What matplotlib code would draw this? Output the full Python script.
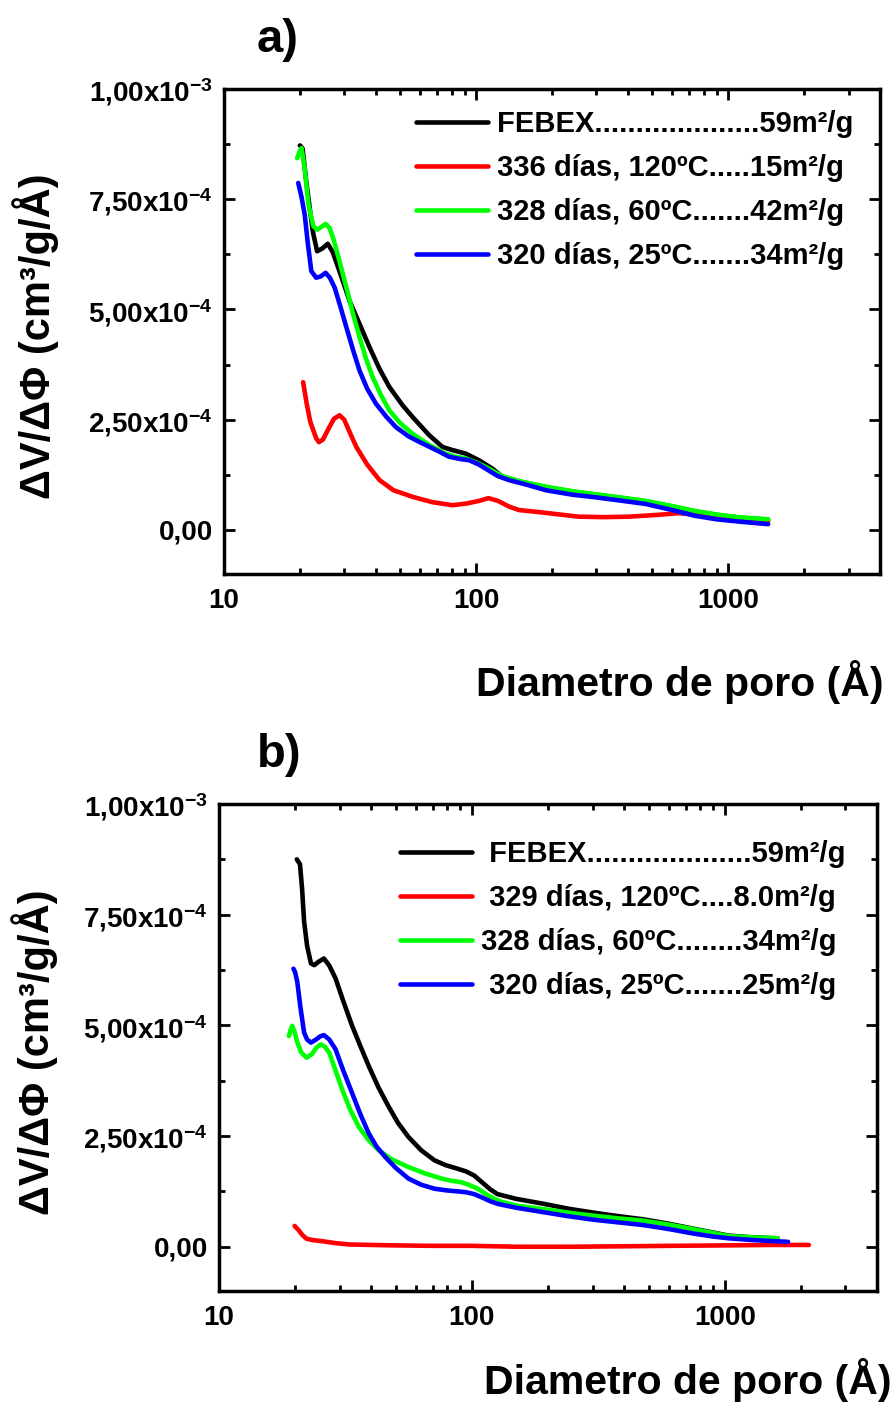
import matplotlib
matplotlib.use("Agg")
import matplotlib.pyplot as plt
from matplotlib.ticker import FixedLocator, FixedFormatter, LogLocator, NullFormatter, MultipleLocator

plt.rcParams['font.family'] = ['Liberation Sans', 'DejaVu Sans']
plt.rcParams['font.weight'] = 'bold'
plt.rcParams['axes.labelweight'] = 'bold'
plt.rcParams['mathtext.fontset'] = 'custom'
plt.rcParams['mathtext.rm'] = 'Liberation Sans:bold'
plt.rcParams['mathtext.bf'] = 'Liberation Sans:bold'
plt.rcParams['mathtext.it'] = 'Liberation Sans:bold'

# ---- panel a: pore size distributions (D in Angstrom, dV/dD in 1e-4 cm3/g/A)
a_febex_d = [20.0, 20.5, 21.2, 22.5, 23.4, 24.5, 25.8, 27.0, 28.7, 31.5, 34.5, 37.8, 41.4,
             45.3, 51.2, 56.0, 65.1, 73.6, 80.7, 91.0, 102.7, 116, 127, 150, 189, 240,
             297, 380, 469, 600, 738, 900, 1097, 1440]
a_febex_v = [8.72, 8.65, 7.90, 6.77, 6.32, 6.38, 6.49, 6.30, 5.87, 5.19, 4.67, 4.14, 3.65,
             3.24, 2.82, 2.56, 2.15, 1.88, 1.81, 1.73, 1.58, 1.39, 1.21, 1.09, 0.97, 0.87,
             0.80, 0.72, 0.65, 0.53, 0.42, 0.34, 0.28, 0.23]

a_120_d = [20.6, 21.3, 22.0, 22.6, 23.2, 23.8, 24.7, 26.0, 27.3, 28.7, 30.0, 31.6, 33.5,
           37.0, 41.4, 47.0, 56.0, 67.0, 80.6, 92.0, 103, 112, 122, 135, 148, 180, 255,
           320, 403, 520, 638, 800, 1097, 1440]
a_120_v = [3.35, 2.85, 2.45, 2.26, 2.08, 1.99, 2.05, 2.30, 2.52, 2.60, 2.50, 2.20, 1.88,
           1.48, 1.13, 0.90, 0.75, 0.63, 0.56, 0.60, 0.66, 0.72, 0.66, 0.53, 0.45, 0.40,
           0.30, 0.29, 0.30, 0.34, 0.38, 0.33, 0.25, 0.19]

a_60_d = [19.5, 20.0, 20.3, 20.9, 21.6, 22.6, 23.4, 24.3, 25.3, 26.2, 27.1, 28.7, 30.6,
          32.5, 34.5, 36.5, 38.9, 42.0, 45.3, 50.0, 56.0, 65.0, 75.8, 83.0, 91.0, 100,
          109, 118, 127, 150, 189, 240, 297, 380, 469, 600, 738, 900, 1097, 1440]
a_60_v = [8.43, 8.60, 8.66, 8.20, 7.40, 6.89, 6.81, 6.87, 6.94, 6.85, 6.62, 6.10, 5.49,
          4.90, 4.37, 3.90, 3.46, 3.05, 2.71, 2.42, 2.18, 1.93, 1.73, 1.66, 1.62, 1.53,
          1.43, 1.32, 1.22, 1.10, 0.98, 0.88, 0.81, 0.73, 0.66, 0.54, 0.43, 0.35, 0.29, 0.24]

a_25_d = [19.7, 20.3, 20.9, 21.5, 22.2, 23.2, 24.2, 25.3, 26.3, 27.5, 29.0, 30.6, 32.5,
          34.5, 37.0, 40.1, 44.0, 48.1, 54.0, 61.3, 70.0, 78.1, 86.0, 93.8, 102, 112, 122,
          135, 160, 189, 240, 297, 380, 469, 600, 738, 900, 1097, 1440]
a_25_v = [7.87, 7.55, 7.15, 6.50, 5.87, 5.72, 5.75, 5.83, 5.72, 5.49, 5.05, 4.59, 4.08,
          3.61, 3.20, 2.86, 2.57, 2.33, 2.12, 1.96, 1.80, 1.66, 1.61, 1.58, 1.49, 1.35,
          1.22, 1.13, 1.02, 0.90, 0.80, 0.74, 0.66, 0.59, 0.45, 0.32, 0.24, 0.19, 0.13]

# ---- panel b
b_febex_d = [20.3, 20.9, 21.3, 21.7, 22.3, 23.1, 23.8, 24.8, 26.0, 27.3, 28.9, 31.0, 33.6,
             36.3, 39.1, 42.7, 46.8, 51.0, 56.1, 63.0, 71.2, 79.0, 88.0, 95.0, 102, 110,
             118, 126, 150, 192, 240, 303, 380, 475, 600, 748, 900, 1038, 1300, 1617]
b_febex_v = [8.75, 8.64, 8.10, 7.35, 6.80, 6.40, 6.36, 6.44, 6.51, 6.35, 6.06, 5.55, 4.99,
             4.52, 4.08, 3.60, 3.17, 2.80, 2.48, 2.18, 1.95, 1.84, 1.76, 1.70, 1.61, 1.45,
             1.30, 1.19, 1.08, 0.97, 0.86, 0.77, 0.69, 0.62, 0.52, 0.41, 0.32, 0.25, 0.21, 0.19]

b_120_d = [19.9, 20.6, 21.4, 22.2, 23.5, 26.0, 29.0, 33.0, 40.0, 50.0, 70.0, 100, 150, 250,
           400, 600, 1000, 1500, 2150]
b_120_v = [0.47, 0.38, 0.26, 0.18, 0.15, 0.12, 0.08, 0.05, 0.04, 0.03, 0.02, 0.02, 0.00,
           0.00, 0.01, 0.02, 0.03, 0.04, 0.04]

b_60_d = [18.9, 19.2, 19.5, 19.9, 20.4, 21.2, 22.2, 23.3, 24.3, 25.3, 26.2, 27.3, 28.9,
          30.7, 33.0, 35.7, 39.0, 42.8, 48.0, 56.1, 65.0, 75.8, 83.0, 90.5, 98.0, 105.5,
          115, 122, 130, 150, 192, 240, 303, 380, 475, 600, 748, 900, 1038, 1300, 1617]
b_60_v = [4.76, 4.90, 4.99, 4.85, 4.61, 4.38, 4.27, 4.35, 4.50, 4.57, 4.52, 4.38, 3.98,
          3.55, 3.10, 2.71, 2.41, 2.18, 1.98, 1.80, 1.66, 1.54, 1.49, 1.46, 1.39, 1.31,
          1.17, 1.09, 1.02, 0.93, 0.85, 0.77, 0.70, 0.64, 0.59, 0.50, 0.40, 0.31, 0.24, 0.21, 0.19]

b_25_d = [19.7, 20.0, 20.4, 21.0, 21.7, 22.3, 23.1, 24.2, 25.1, 26.0, 27.3, 28.9, 31.0,
          33.6, 36.3, 39.1, 42.0, 45.4, 50.0, 56.1, 63.0, 71.2, 80.0, 88.0, 95.0, 102, 110,
          118, 126, 150, 192, 240, 303, 380, 475, 600, 748, 900, 1038, 1300, 1780]
b_25_v = [6.28, 6.20, 5.98, 5.40, 4.84, 4.68, 4.61, 4.68, 4.75, 4.78, 4.68, 4.46, 3.98,
          3.47, 2.98, 2.56, 2.26, 2.03, 1.78, 1.54, 1.40, 1.31, 1.27, 1.25, 1.23, 1.19,
          1.11, 1.03, 0.97, 0.88, 0.78, 0.69, 0.61, 0.55, 0.49, 0.40, 0.30, 0.23, 0.19, 0.15, 0.11]

labels_a = ["FEBEX....................59m\u00b2/g",
            "336 d\u00edas, 120\u00baC.....15m\u00b2/g",
            "328 d\u00edas, 60\u00baC.......42m\u00b2/g",
            "320 d\u00edas, 25\u00baC.......34m\u00b2/g"]
labels_b = [" FEBEX....................59m\u00b2/g",
            " 329 d\u00edas, 120\u00baC....8.0m\u00b2/g",
            "328 d\u00edas, 60\u00baC........34m\u00b2/g",
            " 320 d\u00edas, 25\u00baC.......25m\u00b2/g"]
colors = ['#000000', '#ff0000', '#00ff00', '#0000ff']

yticks = [0, 2.5e-4, 5e-4, 7.5e-4, 1e-3]
yticklabels = ["0,00", "2,50x10$^{-4}$", "5,00x10$^{-4}$", "7,50x10$^{-4}$", "1,00x10$^{-3}$"]
xticks = [10, 100, 1000]
xticklabels = ["10", "100", "1000"]

W, H = 890, 1403
fig = plt.figure(figsize=(W / 100, H / 100), dpi=100)
ax_a = fig.add_axes([224 / W, 1 - 574 / H, (880 - 224) / W, (574 - 89) / H])
ax_b = fig.add_axes([219 / W, 1 - 1291 / H, (877 - 219) / W, (1291 - 804) / H])


def style(ax, label_x):
    ax.set_xscale('log')
    ax.set_xlim(10, 4000)
    ax.set_ylim(-1e-4, 1e-3)
    ax.xaxis.set_major_locator(FixedLocator(xticks))
    ax.xaxis.set_major_formatter(FixedFormatter(xticklabels))
    ax.xaxis.set_minor_locator(LogLocator(base=10, subs=range(2, 10)))
    ax.xaxis.set_minor_formatter(NullFormatter())
    ax.yaxis.set_major_locator(FixedLocator(yticks))
    ax.yaxis.set_major_formatter(FixedFormatter(yticklabels))
    ax.yaxis.set_minor_locator(MultipleLocator(1.25e-4))
    ax.tick_params(which='both', direction='in', top=True, right=True, width=2)
    ax.tick_params(which='major', length=8, labelsize=20)
    ax.tick_params(which='minor', length=4.5)
    ax.tick_params(axis='x', pad=10)
    ax.tick_params(axis='y', pad=8)
    for s in ax.spines.values():
        s.set_linewidth(2.5)
    ax.set_ylabel("\u0394V/\u0394\u03a6 (cm\u00b3/g/\u00c5)", fontsize=30, fontweight='bold')
    ax.yaxis.set_label_coords(label_x, 0.49)


series_a = [(a_febex_d, a_febex_v), (a_120_d, a_120_v), (a_60_d, a_60_v), (a_25_d, a_25_v)]
series_b = [(b_febex_d, b_febex_v), (b_120_d, b_120_v), (b_60_d, b_60_v), (b_25_d, b_25_v)]

for ax, series, labels, lx in [(ax_a, series_a, labels_a, -0.252), (ax_b, series_b, labels_b, -0.244)]:
    style(ax, lx)
    for (d, v), c, lab in zip(series, colors, labels):
        ax.plot(d, [x * 1e-4 for x in v], color=c, lw=3.3, label=lab,
                solid_capstyle='round', solid_joinstyle='round')

leg_kw = dict(loc='upper left', bbox_transform=fig.transFigure, frameon=False,
              fontsize=21, handlelength=2.47, handletextpad=0.3, labelspacing=0.55,
              borderpad=0, borderaxespad=0)
ax_a.legend(bbox_to_anchor=(416 / W, 1 - 110 / H), **leg_kw)
ax_b.legend(bbox_to_anchor=(400 / W, 1 - 840 / H), **leg_kw)

fig.text(680 / W, 1 - 682 / H, "Diametro de poro (\u00c5)", fontsize=29.5, ha='center', va='center')
fig.text(688 / W, 1 - 1380 / H, "Diametro de poro (\u00c5)", fontsize=29.5, ha='center', va='center')
fig.text(257 / W, 1 - 40 / H, "a)", fontsize=34, ha='left', va='center')
fig.text(257 / W, 1 - 755 / H, "b)", fontsize=34, ha='left', va='center')

fig.savefig("out.png", dpi=100)
